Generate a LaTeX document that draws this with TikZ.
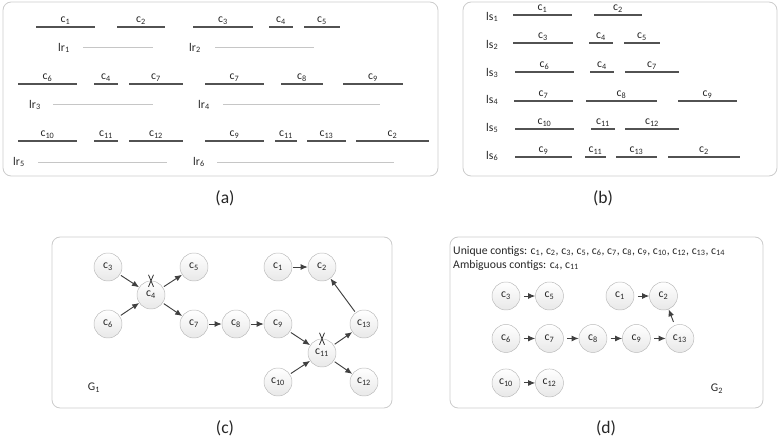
\documentclass[tikz,border=0pt]{standalone}
\usepackage{fontspec}
\setmainfont{Carlito}
\usetikzlibrary{arrows.meta,positioning}
\newcommand{\ctg}[1]{c\textsubscript{#1}}
\tikzstyle{panel} = [draw=gray!40, line width=0.7pt, rounded corners=7pt]
\tikzstyle{contig} = [draw=black!68, line width=1.6pt]
\tikzstyle{readline} = [draw=gray!45, line width=0.7pt]
\tikzstyle{clabel} = [above=1.5pt, inner sep=0pt]
\tikzstyle{rlabel} = [anchor=base west, inner sep=0pt]
\tikzstyle{sublabel} = [font=\fontsize{15}{17}\selectfont]
\tikzstyle{vertex} = [circle, draw=gray!55, top color=white, bottom color=gray!18, minimum size=0.84cm, inner sep=0pt]
\tikzstyle{line} = [draw=black!75, line width=0.8pt, -{Latex[length=6pt,width=5pt]}, shorten <=1pt]
\tikzstyle{xmark} = [draw=black!80, line width=0.7pt]

\begin{document}
\begin{tikzpicture}[x=0.03cm, y=-0.03cm, font=\fontsize{10}{12}\selectfont, text=black!85]
    \useasboundingbox (0,0) rectangle (778,440);

    % (a) long reads over contigs
    \draw[panel] (3,2) rectangle (438,176);
    \draw[contig] (36,27) -- node[clabel] (a1) {\ctg{1}} (95,27);
    \draw[contig] (117,27) -- node[clabel] (a2) {\ctg{2}} (165,27);
    \draw[contig] (193,27) -- node[clabel] (a3) {\ctg{3}} (253,27);
    \draw[contig] (269,27) -- node[clabel] (a4) {\ctg{4}} (293,27);
    \draw[contig] (304,27) -- node[clabel] (a5) {\ctg{5}} (340,27);
    \draw[contig] (18,84) -- node[clabel] (a6) {\ctg{6}} (77,84);
    \draw[contig] (94,84) -- node[clabel] (a7) {\ctg{4}} (118,84);
    \draw[contig] (129,84) -- node[clabel] (a8) {\ctg{7}} (183,84);
    \draw[contig] (205,84) -- node[clabel] (a9) {\ctg{7}} (264,84);
    \draw[contig] (281,84) -- node[clabel] (a10) {\ctg{8}} (323,84);
    \draw[contig] (343,84) -- node[clabel] (a11) {\ctg{9}} (403,84);
    \draw[contig] (18,141) -- node[clabel] (a12) {\ctg{10}} (77,141);
    \draw[contig] (94,141) -- node[clabel] (a13) {\ctg{11}} (118,141);
    \draw[contig] (129,141) -- node[clabel] (a14) {\ctg{12}} (183,141);
    \draw[contig] (205,141) -- node[clabel] (a15) {\ctg{9}} (264,141);
    \draw[contig] (275,141) -- node[clabel] (a16) {\ctg{11}} (297,141);
    \draw[contig] (307,141) -- node[clabel] (a17) {\ctg{13}} (346,141);
    \draw[contig] (356,141) -- node[clabel] (a18) {\ctg{2}} (429,141);
    \node[rlabel] (lr1) at (58,51) {lr\textsubscript{1}};
    \node[rlabel] (lr2) at (189,51) {lr\textsubscript{2}};
    \node[rlabel] (lr3) at (29,108) {lr\textsubscript{3}};
    \node[rlabel] (lr4) at (198,108) {lr\textsubscript{4}};
    \node[rlabel] (lr5) at (13,165) {lr\textsubscript{5}};
    \node[rlabel] (lr6) at (193,165) {lr\textsubscript{6}};
    \draw[readline] (83,47) -- (153,47);
    \draw[readline] (215,47) -- (314,47);
    \draw[readline] (53,104) -- (153,104);
    \draw[readline] (223,104) -- (380,104);
    \draw[readline] (38,162) -- (167,162);
    \draw[readline] (217,162) -- (394,162);
    \node[sublabel] (suba) at (225,198) {(a)};

    % (b) contig order per read
    \draw[panel] (463,2) rectangle (777,176);
    \node[rlabel] (ls1) at (486,20) {ls\textsubscript{1}};
    \node[rlabel] (ls2) at (486,48) {ls\textsubscript{2}};
    \node[rlabel] (ls3) at (486,76) {ls\textsubscript{3}};
    \node[rlabel] (ls4) at (486,103) {ls\textsubscript{4}};
    \node[rlabel] (ls5) at (486,131) {ls\textsubscript{5}};
    \node[rlabel] (ls6) at (486,159) {ls\textsubscript{6}};
    \draw[contig] (513,15) -- node[clabel] (b1) {\ctg{1}} (572,15);
    \draw[contig] (594,15) -- node[clabel] (b2) {\ctg{2}} (642,15);
    \draw[contig] (513,43) -- node[clabel] (b3) {\ctg{3}} (573,43);
    \draw[contig] (589,43) -- node[clabel] (b4) {\ctg{4}} (613,43);
    \draw[contig] (624,43) -- node[clabel] (b5) {\ctg{5}} (660,43);
    \draw[contig] (515,72) -- node[clabel] (b6) {\ctg{6}} (574,72);
    \draw[contig] (590,72) -- node[clabel] (b7) {\ctg{4}} (614,72);
    \draw[contig] (625,72) -- node[clabel] (b8) {\ctg{7}} (679,72);
    \draw[contig] (514,101) -- node[clabel] (b9) {\ctg{7}} (573,101);
    \draw[contig] (586,101) -- node[clabel] (b10) {\ctg{8}} (657,101);
    \draw[contig] (678,101) -- node[clabel] (b11) {\ctg{9}} (737,101);
    \draw[contig] (515,129) -- node[clabel] (b12) {\ctg{10}} (574,129);
    \draw[contig] (591,129) -- node[clabel] (b13) {\ctg{11}} (615,129);
    \draw[contig] (625,129) -- node[clabel] (b14) {\ctg{12}} (679,129);
    \draw[contig] (515,157) -- node[clabel] (b15) {\ctg{9}} (572,157);
    \draw[contig] (585,157) -- node[clabel] (b16) {\ctg{11}} (606,157);
    \draw[contig] (616,157) -- node[clabel] (b17) {\ctg{13}} (657,157);
    \draw[contig] (668,157) -- node[clabel] (b18) {\ctg{2}} (740,157);
    \node[sublabel] (subb) at (603,198) {(b)};

    % (c) contig graph G1
    \draw[panel] (52,237) rectangle (392,408);
    \node[vertex] (g3) at (108,267) {\ctg{3}};
    \node[vertex] (g4) at (151,295) {\ctg{4}};
    \node[vertex] (g5) at (194,267) {\ctg{5}};
    \node[vertex] (g6) at (108,324) {\ctg{6}};
    \node[vertex] (g7) at (194,324) {\ctg{7}};
    \node[vertex] (g8) at (236,324) {\ctg{8}};
    \node[vertex] (g9) at (278,324) {\ctg{9}};
    \node[vertex] (g1) at (278,267) {\ctg{1}};
    \node[vertex] (g2) at (322,267) {\ctg{2}};
    \node[vertex] (g11) at (322,353) {\ctg{11}};
    \node[vertex] (g13) at (364,324) {\ctg{13}};
    \node[vertex] (g10) at (278,382) {\ctg{10}};
    \node[vertex] (g12) at (364,382) {\ctg{12}};
    \path[line] (g3) -- (g4);
    \path[line] (g6) -- (g4);
    \path[line] (g4) -- (g5);
    \path[line] (g4) -- (g7);
    \path[line] (g7) -- (g8);
    \path[line] (g8) -- (g9);
    \path[line] (g9) -- (g11);
    \path[line] (g10) -- (g11);
    \path[line] (g11) -- (g13);
    \path[line] (g11) -- (g12);
    \path[line] (g13) -- (g2);
    \path[line] (g1) -- (g2);
    \draw[xmark] (g4.north) +(-2.5,-6) -- +(2.5,6) +(2.5,-6) -- +(-2.5,6);
    \draw[xmark] (g11.north) +(-2.5,-6) -- +(2.5,6) +(2.5,-6) -- +(-2.5,6);
    \node (G1) at (94,388) {G\textsubscript{1}};
    \node[sublabel] (subc) at (225,428) {(c)};

    % (d) graph G2 after removing ambiguous contigs
    \draw[panel] (450,237) rectangle (763,408);
    \node[rlabel] (uniq) at (453,254) {Unique contigs: \ctg{1}, \ctg{2}, \ctg{3}, \ctg{5}, \ctg{6}, \ctg{7}, \ctg{8}, \ctg{9}, \ctg{10}, \ctg{12}, \ctg{13}, \ctg{14}};
    \node[rlabel] (ambi) at (453,268) {Ambiguous contigs: \ctg{4}, \ctg{11}};
    \node[vertex] (h3) at (506,296) {\ctg{3}};
    \node[vertex, right=0.45cm of h3] (h5) {\ctg{5}};
    \node[vertex] (h1) at (620,296) {\ctg{1}};
    \node[vertex, right=0.45cm of h1] (h2) {\ctg{2}};
    \node[vertex, below=0.42cm of h3] (h6) {\ctg{6}};
    \node[vertex, right=0.45cm of h6] (h7) {\ctg{7}};
    \node[vertex, right=0.45cm of h7] (h8) {\ctg{8}};
    \node[vertex, right=0.45cm of h8] (h9) {\ctg{9}};
    \node[vertex, right=0.45cm of h9] (h13) {\ctg{13}};
    \node[vertex, below=0.48cm of h6] (h10) {\ctg{10}};
    \node[vertex, right=0.45cm of h10] (h12) {\ctg{12}};
    \path[line, shorten <=3pt] (h3) -- (h5);
    \path[line, shorten <=3pt] (h1) -- (h2);
    \path[line, shorten <=3pt] (h6) -- (h7);
    \path[line, shorten <=3pt] (h7) -- (h8);
    \path[line, shorten <=3pt] (h8) -- (h9);
    \path[line, shorten <=3pt] (h9) -- (h13);
    \path[line, shorten <=3pt] (h10) -- (h12);
    \path[line, shorten <=3pt] (h13) -- (h2);
    \node (G2) at (717,389) {G\textsubscript{2}};
    \node[sublabel] (subd) at (606,428) {(d)};
\end{tikzpicture}
\end{document}
